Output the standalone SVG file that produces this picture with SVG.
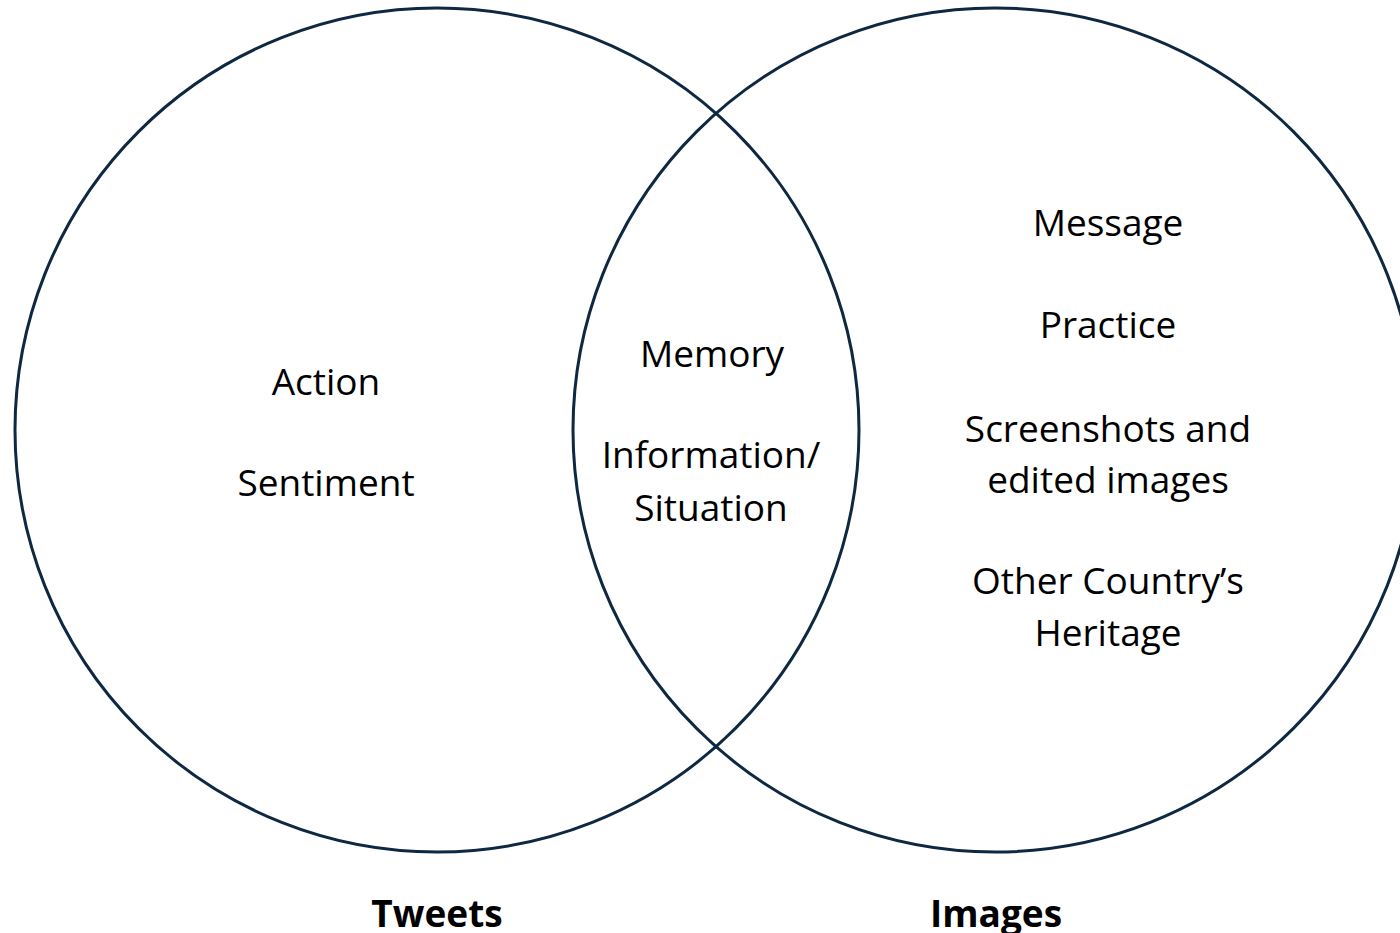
<svg xmlns="http://www.w3.org/2000/svg" width="1400" height="933" viewBox="0 0 1400 933">
  <style>
    .set { fill: none; stroke: #0e2841; stroke-width: 3; }
    .lbl { font-family: "Open Sans", "Noto Sans", "Liberation Sans", sans-serif; font-size: 37px; fill: #000; text-anchor: middle; }
    .title { font-family: "Open Sans", "Noto Sans", "Liberation Sans", sans-serif; font-size: 37px; font-weight: bold; fill: #000; text-anchor: middle; }
  </style>
  <rect width="1400" height="933" fill="#ffffff"/>

  <!-- set outlines -->
  <g id="connectors">
    <circle id="tweets-circle" class="set" cx="437" cy="430" r="422"/>
    <circle id="images-circle" class="set" cx="995" cy="430" r="422"/>
  </g>

  <!-- Tweets-only region -->
  <g id="tweets-only">
    <text class="lbl" x="326" y="395">Action</text>
    <text class="lbl" x="326" y="496">Sentiment</text>
  </g>

  <!-- overlap region -->
  <g id="overlap">
    <text class="lbl" x="712" y="367">Memory</text>
    <text class="lbl" x="711" y="468">Information/</text>
    <text class="lbl" x="711" y="521">Situation</text>
  </g>

  <!-- Images-only region -->
  <g id="images-only">
    <text class="lbl" x="1108" y="236">Message</text>
    <text class="lbl" x="1108" y="338">Practice</text>
    <text class="lbl" x="1108" y="442">Screenshots and</text>
    <text class="lbl" x="1108" y="493">edited images</text>
    <text class="lbl" x="1108" y="594">Other Country’s</text>
    <text class="lbl" x="1108" y="646">Heritage</text>
  </g>

  <!-- set titles -->
  <g id="tweets-title">
    <text class="title" x="437" y="927">Tweets</text>
  </g>
  <g id="images-title">
    <text class="title" x="996" y="927">Images</text>
  </g>
</svg>
